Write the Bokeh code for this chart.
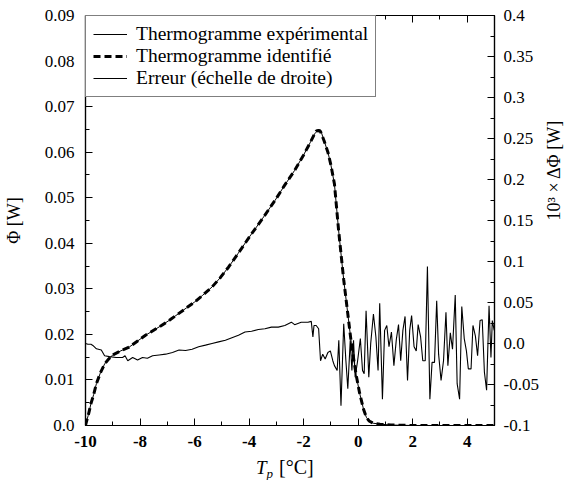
import math
from bokeh.plotting import figure
from bokeh.models import (Range1d, LinearAxis, FixedTicker, Legend, LegendItem, Div)
from bokeh.layouts import column
from bokeh.embed import file_html
from bokeh.resources import INLINE

# ---------------- data ----------------
# thermogram (left axis, W)
therm_x = [-10.0, -9.95, -9.9, -9.8, -9.7, -9.6, -9.45, -9.3, -9.15, -9.0, -8.7, -8.4,
           -8.1, -7.8, -7.5, -7.2, -6.9, -6.6, -6.3, -6.0, -5.7, -5.36, -5.05, -4.75,
           -4.4, -4.0, -3.5, -3.05, -2.7, -2.33, -2.0, -1.75, -1.6, -1.54, -1.5, -1.45,
           -1.38, -1.25, -1.11, -1.0, -0.87, -0.72, -0.6, -0.53, -0.38, -0.25, -0.08,
           0.05, 0.2, 0.3, 0.4, 0.55, 0.8, 1.2, 2.0, 3.0, 4.0, 5.0]
therm_exp = [0.0, 0.0012, 0.0022, 0.0048, 0.0068, 0.0092, 0.0116, 0.0135, 0.0146, 0.0155,
             0.0164, 0.0172, 0.0185, 0.0198, 0.0209, 0.0220, 0.0232, 0.0245, 0.0258, 0.0271,
             0.0286, 0.0304, 0.0325, 0.0348, 0.0378, 0.0413, 0.0455, 0.0494, 0.0527, 0.0560,
             0.0594, 0.0622, 0.0640, 0.0644, 0.0647, 0.0645, 0.0649, 0.0625, 0.0600, 0.0572,
             0.0530, 0.0430, 0.0360, 0.0320, 0.0245, 0.0180, 0.0113, 0.0072, 0.0035, 0.0018,
             0.0010, 0.0005, 0.0003, 0.0001, 0.0, 0.0, 0.0, 0.0]
therm_id = [0.0, 0.0012, 0.0022, 0.0048, 0.0068, 0.0092, 0.0116, 0.0135, 0.0146, 0.0155,
            0.0164, 0.0172, 0.0185, 0.0198, 0.0209, 0.0220, 0.0232, 0.0245, 0.0258, 0.0271,
            0.0286, 0.0304, 0.0325, 0.0348, 0.0378, 0.0413, 0.0455, 0.0494, 0.0527, 0.0560,
            0.0594, 0.0622, 0.0640, 0.0646, 0.0647, 0.0648, 0.0645, 0.0625, 0.0600, 0.0572,
            0.0530, 0.0430, 0.0360, 0.0320, 0.0245, 0.0180, 0.0113, 0.0072, 0.0035, 0.0018,
            0.0010, 0.0005, 0.0003, 0.0001, 0.0, 0.0, 0.0, 0.0]

# error (right axis, 10^3 x W)
err_x = [-10.0, -9.91, -9.8, -9.73, -9.6, -9.42, -9.3, -9.12, -8.88, -8.64, -8.55, -8.45,
         -8.27, -8.09, -7.91, -7.73, -7.54, -7.3, -7.06, -6.81, -6.57, -6.33, -6.09, -5.85,
         -5.6, -5.36, -5.12, -4.87, -4.63, -4.39, -4.15, -3.91, -3.66, -3.42, -3.18, -2.93,
         -2.69, -2.45, -2.33, -2.09, -1.84, -1.72, -1.66, -1.62, -1.54, -1.45, -1.38, -1.30,
         -1.21, -1.11, -1.02, -0.93, -0.87, -0.77, -0.71, -0.63, -0.53, -0.45, -0.38, -0.29,
         -0.23, -0.17, -0.11, -0.02, 0.08, 0.16, 0.22, 0.29, 0.39, 0.46, 0.56, 0.65, 0.73,
         0.79, 0.89, 0.97, 1.05, 1.13, 1.22, 1.31, 1.40, 1.48, 1.56, 1.64, 1.72, 1.81, 1.89,
         1.96, 2.05, 2.13, 2.20, 2.29, 2.37, 2.46, 2.54, 2.63, 2.71, 2.80, 2.88, 2.95, 3.04,
         3.13, 3.22, 3.29, 3.38, 3.46, 3.56, 3.63, 3.72, 3.80, 3.89, 3.97, 4.04, 4.14, 4.21,
         4.30, 4.38, 4.47, 4.55, 4.63, 4.71, 4.80, 4.87, 4.92, 4.99]
err_v = [0.000, -0.001, -0.001, -0.0024, -0.0065, -0.008, -0.015, -0.016, -0.017, -0.017,
         -0.015, -0.021, -0.017, -0.020, -0.017, -0.018, -0.015, -0.014, -0.013, -0.011,
         -0.008, -0.0085, -0.007, -0.004, -0.002, 0.000, 0.002, 0.004, 0.007, 0.010, 0.014,
         0.015, 0.017, 0.018, 0.020, 0.020, 0.022, 0.026, 0.023, 0.026, 0.026, 0.027, 0.008,
         0.022, 0.022, 0.018, -0.021, -0.013, -0.019, -0.011, -0.009, -0.021, -0.027, -0.033,
         0.004, -0.076, 0.024, -0.021, -0.055, 0.004, -0.033, 0.004, -0.041, -0.021, 0.006,
         -0.033, -0.037, 0.040, -0.041, 0.000, 0.036, 0.008, -0.033, 0.049, -0.068, 0.016,
         0.022, -0.004, 0.014, -0.027, 0.005, 0.023, -0.021, 0.016, 0.033, -0.045, 0.016,
         0.034, -0.004, -0.009, 0.023, 0.008, -0.021, -0.021, 0.094, -0.068, -0.023, -0.023,
         0.052, -0.013, -0.045, -0.021, 0.038, -0.027, 0.013, -0.007, 0.059, -0.049, -0.068,
         0.045, 0.006, -0.009, -0.031, -0.031, 0.022, 0.009, -0.015, 0.028, 0.029, -0.035,
         -0.057, 0.046, -0.017, 0.028, 0.016]

x_ticks = [-10, -8, -6, -4, -2, 0, 2, 4]
x_minor = [-9, -7, -5, -3, -1, 1, 3, 5]
y_ticks = [0.0, 0.01, 0.02, 0.03, 0.04, 0.05, 0.06, 0.07, 0.08, 0.09]
y_tick_labels = ["0.0", "0.01", "0.02", "0.03", "0.04", "0.05", "0.06", "0.07", "0.08", "0.09"]
y2_ticks = [-0.1, -0.05, 0.0, 0.05, 0.1, 0.15, 0.2, 0.25, 0.3, 0.35, 0.4]
y2_tick_labels = ["-0.1", "-0.05", "0.0", "0.05", "0.1", "0.15", "0.2", "0.25", "0.3", "0.35", "0.4"]

FONT = "Liberation Serif"

p = figure(width=576, height=455, x_range=Range1d(-10, 5), y_range=Range1d(0, 0.09),
           output_backend="svg", toolbar_location=None,
           min_border_left=83, min_border_right=81, min_border_top=15, min_border_bottom=30)
p.extra_y_ranges = {"err": Range1d(-0.1, 0.4)}
p.grid.visible = False
p.outline_line_color = "black"
p.outline_line_width = 1.2
p.background_fill_color = "white"
p.border_fill_color = "white"

def style_axis(ax, bold=False):
    ax.axis_line_color = "black"
    ax.axis_line_width = 1.2
    ax.major_tick_in = 7
    ax.major_tick_out = 0
    ax.minor_tick_in = 4
    ax.minor_tick_out = 0
    ax.major_tick_line_color = "black"
    ax.minor_tick_line_color = "black"
    ax.major_label_text_font = FONT
    ax.major_label_text_font_size = "17px"
    ax.major_label_text_color = "black"
    if bold:
        ax.major_label_text_font_style = "bold"
    ax.axis_label_text_font = FONT
    ax.axis_label_text_font_size = "18px"
    ax.axis_label_text_font_style = "normal"
    ax.axis_label_text_color = "black"

# x axis (bottom)
xa = p.xaxis[0]
xa.ticker = FixedTicker(ticks=x_ticks, minor_ticks=x_minor)
xa.major_label_overrides = {t: str(t) for t in x_ticks}
style_axis(xa, bold=True)
xa.major_label_standoff = 10

# left axis
ya = p.yaxis[0]
ya.ticker = FixedTicker(ticks=y_ticks, minor_ticks=[v + 0.005 for v in y_ticks[:-1]])
ya.major_label_overrides = dict(zip(y_ticks, y_tick_labels))
style_axis(ya)
ya.axis_label = "Φ [W]"
ya.major_label_standoff = 11
ya.axis_label_standoff = 18

# top axis (ticks only, no labels)
top = LinearAxis(ticker=FixedTicker(ticks=x_ticks, minor_ticks=x_minor))
style_axis(top)
top.major_label_overrides = {t: "" for t in x_ticks}
top.major_label_standoff = 0
p.add_layout(top, "above")

# right axis
ra = LinearAxis(y_range_name="err",
                ticker=FixedTicker(ticks=y2_ticks, minor_ticks=[v + 0.025 for v in y2_ticks[:-1]]))
ra.major_label_overrides = dict(zip(y2_ticks, y2_tick_labels))
style_axis(ra)
ra.axis_label = "10³ × ΔΦ [W]"
ra.axis_label_orientation = math.pi / 2
ra.major_label_standoff = 9
ra.axis_label_standoff = 12
p.add_layout(ra, "right")

# lines
r_err = p.line(err_x, err_v, y_range_name="err", line_color="black", line_width=1.1)
r_exp = p.line(therm_x, therm_exp, line_color="black", line_width=1.0)
r_id = p.line(therm_x, therm_id, line_color="black", line_width=3, line_dash="7 4")

legend = Legend(items=[
    LegendItem(label="Thermogramme expérimental", renderers=[r_exp]),
    LegendItem(label="Thermogramme identifié", renderers=[r_id]),
    LegendItem(label="Erreur (échelle de droite)", renderers=[r_err]),
], location="top_left")
legend.margin = 0
legend.padding = 7
legend.spacing = 0
legend.label_height = 18
legend.glyph_height = 18
legend.glyph_width = 34
legend.label_standoff = 9
legend.label_text_font = FONT
legend.label_text_font_size = "19.5px"
legend.label_text_color = "black"
legend.border_line_color = "black"
legend.border_line_width = 1.2
legend.background_fill_color = "white"
legend.background_fill_alpha = 1.0
p.add_layout(legend)

# x-axis title  T_p [°C]
xtitle = Div(
    text=("<span style=\"font-family:'Liberation Serif'; font-size:19px; color:black; "
          "white-space:nowrap; line-height:22px;\">"
          "<i>T</i><i style=\"font-size:13px; position:relative; top:4px;\">p</i>"
          "<span style=\"margin-left:6px; font-size:20px;\">[°C]</span></span>"),
    width=120, height=23, margin=(1, 0, 0, 256))

layout = column(p, xtitle, spacing=0)

open("out.html", "w").write(file_html(layout, INLINE))
